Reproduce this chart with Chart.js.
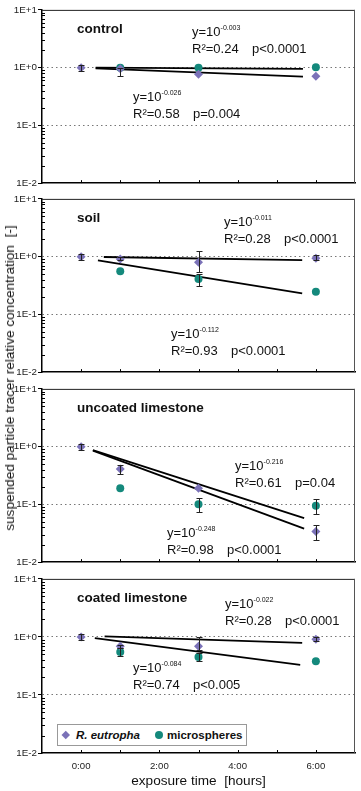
<!DOCTYPE html>
<html>
<head>
<meta charset="utf-8">
<script src="https://cdn.jsdelivr.net/npm/chart.js@4.4.1/dist/chart.umd.min.js"></script>
<style>
  body { margin: 0; background: #fff; }
  #wrap { position: relative; width: 361px; height: 791px; font-family: "Liberation Sans", Arial, sans-serif; color: #111; }
  #wrap canvas { position: absolute; left: 0; }
  .txt { position: absolute; font-size: 13px; line-height: 15px; white-space: pre; }
  .ttl { position: absolute; font-size: 13.5px; line-height: 15px; font-weight: bold; white-space: pre; }
  .sup { font-size: 7px; position: relative; top: -6px; }
  .rp { display: inline-block; width: 60px; }
  #ytitle { position: absolute; left: 10px; top: 378px; transform: translate(-50%, -50%) rotate(-90deg); font-size: 13.6px; line-height: 14px; white-space: pre; }
  #legend { position: absolute; left: 57px; top: 724px; width: 188px; height: 20px; border: 1px solid #999; background: #fff; font-size: 11.5px; font-weight: bold; line-height: 20px; }
  #legend .d { position: absolute; left: 5px; top: 7px; width: 5.5px; height: 5.5px; background: #7b72b8; transform: rotate(45deg); }
  #legend .c { position: absolute; left: 97px; top: 6px; width: 8px; height: 8px; border-radius: 50%; background: #14897c; }
</style>
</head>
<body>
<div id="wrap">
  <canvas id="p0" width="361" height="187" style="top:3px"></canvas>
  <canvas id="p1" width="361" height="187" style="top:192px"></canvas>
  <canvas id="p2" width="361" height="187" style="top:382px"></canvas>
  <canvas id="p3" width="361" height="219" style="top:572px"></canvas>
  <div id="ytitle">suspended particle tracer relative concentration  [-]</div>
  <div id="legend"><span class="d"></span><span style="position:absolute;left:18px;font-style:italic">R. eutropha</span><span class="c"></span><span style="position:absolute;left:109px">microspheres</span></div>
</div>
<script>
// sampling times [hours]
const hours = [0, 1, 3, 6];
const panelNames = ["control", "soil", "uncoated limestone", "coated limestone"];

// R. eutropha (relative concentration) + error bars
const eutropha = [
  [1.0, 0.96, 0.77, 0.71],
  [1.0, 0.91, 0.80, 0.94],
  [1.0, 0.41, 0.19, 0.034],
  [1.0, 0.69, 0.69, 0.91]
];
const eutrophaLow = [
  [0.88, 0.73, null, null],
  [0.88, 0.86, 0.55, 0.86],
  [0.88, 0.33, null, 0.024],
  [0.88, 0.64, 0.60, 0.84]
];
const eutrophaHigh = [
  [1.13, 0.99, null, null],
  [1.13, 0.97, 1.26, 1.06],
  [1.13, 0.49, null, 0.044],
  [1.13, 0.74, 1.0, 1.0]
];

// microspheres + error bars (t=0 point hidden under the diamond in the source)
const spheres = [
  [null, 1.0, 1.0, 1.02],
  [null, 0.56, 0.41, 0.246],
  [null, 0.19, 0.10, 0.095],
  [null, 0.55, 0.45, 0.38]
];
const spheresLow = [
  [null, null, null, null],
  [null, null, 0.31, null],
  [null, null, 0.075, 0.067],
  [null, 0.47, 0.38, null]
];
const spheresHigh = [
  [null, null, null, null],
  [null, null, 0.50, null],
  [null, null, 0.13, 0.125],
  [null, 0.64, 0.53, null]
];

// regression lines: [t start, t end] and [y start, y end]
const fitHours = [
  [[0.37, 5.67], [0.37, 5.67]],
  [[0.58, 5.65], [0.43, 5.65]],
  [[0.30, 5.70], [0.30, 5.70]],
  [[0.60, 5.65], [0.35, 5.60]]
];
const fitValues = [
  [[1.0, 0.95], [0.97, 0.70]],
  [[0.985, 0.87], [0.86, 0.23]],
  [[0.87, 0.058], [0.85, 0.038]],
  [[1.02, 0.79], [0.95, 0.33]]
];

// equation labels
const eqExp = [["-0.003", "-0.026"], ["-0.011", "-0.112"], ["-0.216", "-0.248"], ["-0.022", "-0.084"]];
const eqR2 = [["0.24", "0.58"], ["0.28", "0.93"], ["0.61", "0.98"], ["0.28", "0.74"]];
const eqP = [["p<0.0001", "p=0.004"], ["p<0.0001", "p<0.0001"], ["p=0.04", "p<0.0001"], ["p<0.0001", "p<0.005"]];
// label placement (left, centre y of first line) in page pixels
const eqPos = [
  [[192, 31], [133, 96]],
  [[224, 221], [171, 333]],
  [[235, 465], [167, 532]],
  [[225, 603], [133, 667]]
];
const titleY = [28, 217, 407, 597];

// axes
const yTicks = [0.01, 0.1, 1, 10];
const yTickLabels = ["1E-2", "1E-1", "1E+0", "1E+1"];
const xTicks = [0, 2, 4, 6];
const xTickLabels = ["0:00", "2:00", "4:00", "6:00"];

const purple = "#7b72b8";
const teal = "#14897c";

const wrap = document.getElementById("wrap");

// extras: error bars, frame, minor ticks
const extras = {
  id: "extras",
  afterDatasetsDraw(chart) {
    const { ctx, scales: { x, y } } = chart;
    ctx.save();
    ctx.strokeStyle = "#222";
    ctx.lineWidth = 1;
    chart.data.datasets.forEach(ds => {
      if (!ds.errLow) return;
      ds.data.forEach((p, i) => {
        const lo = ds.errLow[i], hi = ds.errHigh[i];
        if (lo == null) return;
        const px = Math.round(x.getPixelForValue(p.x)) + 0.5;
        const y1 = Math.round(y.getPixelForValue(lo)) + 0.5, y2 = Math.round(y.getPixelForValue(hi)) + 0.5;
        ctx.beginPath();
        ctx.moveTo(px, y1); ctx.lineTo(px, y2);
        ctx.moveTo(px - 3, y1); ctx.lineTo(px + 3, y1);
        ctx.moveTo(px - 3, y2); ctx.lineTo(px + 3, y2);
        ctx.stroke();
      });
    });
    ctx.restore();
  },
  afterDraw(chart) {
    const { ctx, chartArea: a, scales: { x, y } } = chart;
    ctx.save();
    ctx.lineWidth = 1;
    ctx.strokeStyle = "#222";
    ctx.beginPath();
    ctx.moveTo(a.left, a.top + 0.5); ctx.lineTo(a.right, a.top + 0.5);
    ctx.stroke();
    ctx.strokeStyle = "#555";
    ctx.beginPath();
    ctx.moveTo(a.right - 0.5, a.top); ctx.lineTo(a.right - 0.5, a.bottom);
    ctx.stroke();
    // minor log ticks
    ctx.strokeStyle = "#000";
    ctx.beginPath();
    for (let d = -2; d < 1; d++) {
      for (let m = 2; m < 10; m++) {
        const py = Math.round(y.getPixelForValue(m * Math.pow(10, d))) + 0.5;
        ctx.moveTo(a.left, py); ctx.lineTo(a.left + 3, py);
      }
    }
    // hour ticks
    for (let h = 0; h <= 6; h++) {
      const px = Math.round(x.getPixelForValue(h)) + 0.5;
      ctx.moveTo(px, a.bottom); ctx.lineTo(px, a.bottom - 3);
    }
    ctx.stroke();
    ctx.restore();
  }
};

function makePanel(i) {
  const last = i === 3;
  const xHeight = last ? 38 : 6;
  const ctx = document.getElementById("p" + i).getContext("2d");
  new Chart(ctx, {
    type: "scatter",
    data: {
      datasets: [
        {
          data: hours.map((h, k) => ({ x: h, y: eutropha[i][k] })),
          errLow: eutrophaLow[i], errHigh: eutrophaHigh[i],
          pointStyle: "rectRot", pointRadius: 4.5, backgroundColor: purple, borderWidth: 0
        },
        {
          data: hours.map((h, k) => ({ x: h, y: spheres[i][k] })),
          errLow: spheresLow[i], errHigh: spheresHigh[i],
          pointStyle: "circle", pointRadius: 4, backgroundColor: teal, borderWidth: 0
        },
        ...fitHours[i].map((th, k) => ({
          data: th.map((t, j) => ({ x: t, y: fitValues[i][k][j] })),
          showLine: true, pointRadius: 0, borderColor: "#000", borderWidth: 1.8
        }))
      ]
    },
    options: {
      responsive: false,
      animation: false,
      devicePixelRatio: 1,
      layout: { padding: { top: 6, right: 6, left: 0, bottom: 0 } },
      plugins: { legend: { display: false }, tooltip: { enabled: false } },
      scales: {
        x: {
          type: "linear", min: -1, max: 7,
          afterBuildTicks: s => { s.ticks = xTicks.map(v => ({ value: v })); },
          afterFit: s => { s.height = xHeight; },
          ticks: {
            display: last, padding: 8, maxRotation: 0, autoSkip: false,
            color: "#222", font: { size: 9.6, family: "Liberation Sans" },
            callback: v => xTickLabels[xTicks.indexOf(v)]
          },
          grid: { drawOnChartArea: false, drawTicks: false },
          border: { color: "#000", width: 1.5 },
          title: {
            display: last, text: "exposure time  [hours]", color: "#111",
            font: { size: 13.6, family: "Liberation Sans" }, padding: { top: 0, bottom: 2 }
          }
        },
        y: {
          type: "logarithmic", min: 0.01, max: 10,
          afterBuildTicks: s => { s.ticks = yTicks.map(v => ({ value: v })); },
          afterFit: s => { s.width = 42; },
          ticks: {
            padding: 1, color: "#222", font: { size: 9.8, family: "Liberation Sans" },
            callback: v => yTickLabels[yTicks.indexOf(v)]
          },
          grid: {
            color: c => (c.tick && (c.tick.value === 1 || c.tick.value === 0.1)) ? "#777" : "rgba(0,0,0,0)",
            tickColor: "#000", tickLength: 4, lineWidth: 1
          },
          border: { color: "#000", width: 1.5, dash: [1.5, 3] }
        }
      }
    },
    plugins: [extras]
  });

  // panel title
  const t = document.createElement("div");
  t.className = "ttl";
  t.textContent = panelNames[i];
  t.style.left = "77px";
  t.style.top = (titleY[i] - 7.5) + "px";
  wrap.appendChild(t);

  // regression labels
  eqPos[i].forEach((pos, k) => {
    const d = document.createElement("div");
    d.className = "txt";
    d.style.left = pos[0] + "px";
    d.style.top = (pos[1] - 7.5) + "px";
    d.innerHTML = 'y=10<span class="sup">' + eqExp[i][k] + '</span><br>' +
      '<span class="rp">R²=' + eqR2[i][k] + '</span>' + eqP[i][k];
    wrap.appendChild(d);
  });
}

[0, 1, 2, 3].forEach(makePanel);
</script>
</body>
</html>
